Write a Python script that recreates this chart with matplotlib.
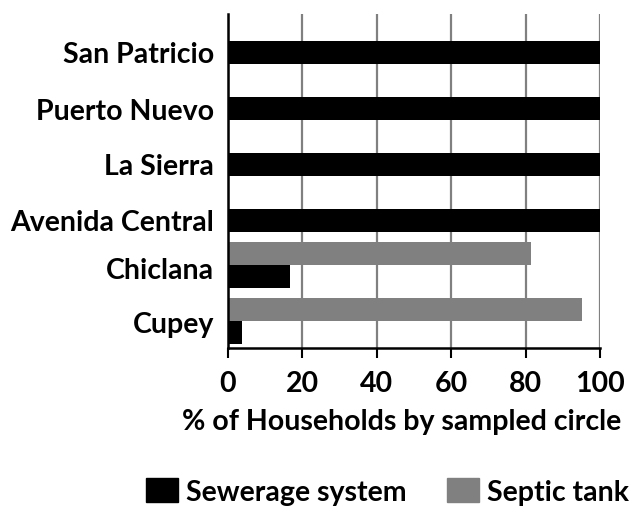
import matplotlib.pyplot as plt
from matplotlib.patches import Patch
import numpy as np

# circles, listed bottom to top
circles = ['Cupey', 'Chiclana', 'Avenida Central', 'La Sierra', 'Puerto Nuevo', 'San Patricio']
sewerage = [3.8, 16.7, 100, 100, 100, 100]
septic = [95.1, 81.4, 0, 0, 0, 0]
xticks = [0, 20, 40, 60, 80, 100]

plt.rcParams['font.family'] = ['Lato', 'DejaVu Sans']
plt.rcParams['font.weight'] = 'bold'
fs = 20.5

fig = plt.figure(figsize=(6.42, 5.10), dpi=100)
ax = fig.add_axes([0.3547, 0.3157, 0.5799, 0.6555])

y = np.arange(len(circles))
h = 0.405
ax.barh(y - h / 2, sewerage, height=h, color='black', zorder=3)
ax.barh(y + h / 2, septic, height=h, color='#808080', zorder=3)

ax.set_xlim(0, 100)
ax.set_ylim(-0.48, 5.49)
ax.set_xticks(xticks)
ax.set_xticklabels([str(v) for v in xticks], fontsize=fs, fontweight='bold')

# labels sit a bit below the category centres in the original
label_shift = [0.0, 0.05, 0.18, 0.19, 0.2, 0.18]
ax.set_yticks(y - np.array(label_shift))
ax.set_yticklabels(circles, fontsize=fs, fontweight='bold')
ax.tick_params(axis='y', length=0, pad=10)
ax.tick_params(axis='x', length=7, width=1.5, pad=9, color='black')

ax.grid(axis='x', color='#808080', linewidth=1.6, zorder=0)
for s in ['top', 'right']:
    ax.spines[s].set_visible(False)
for s in ['left', 'bottom']:
    ax.spines[s].set_linewidth(1.8)
    ax.spines[s].set_zorder(4)

ax.set_xlabel('% of Households by sampled circle', fontsize=fs, fontweight='bold', va='center')
ax.xaxis.set_label_coords(0.466, -0.218)

handles = [Patch(color='black', label='Sewerage system'),
           Patch(color='#808080', label='Septic tank')]
fig.legend(handles=handles, loc='center', bbox_to_anchor=(0.6036, 0.035), ncol=2,
           frameon=False, fontsize=fs, handlelength=1.12, handleheight=0.91,
           handletextpad=0.28, columnspacing=1.4, borderpad=0)

plt.savefig('out.png', dpi=100)
